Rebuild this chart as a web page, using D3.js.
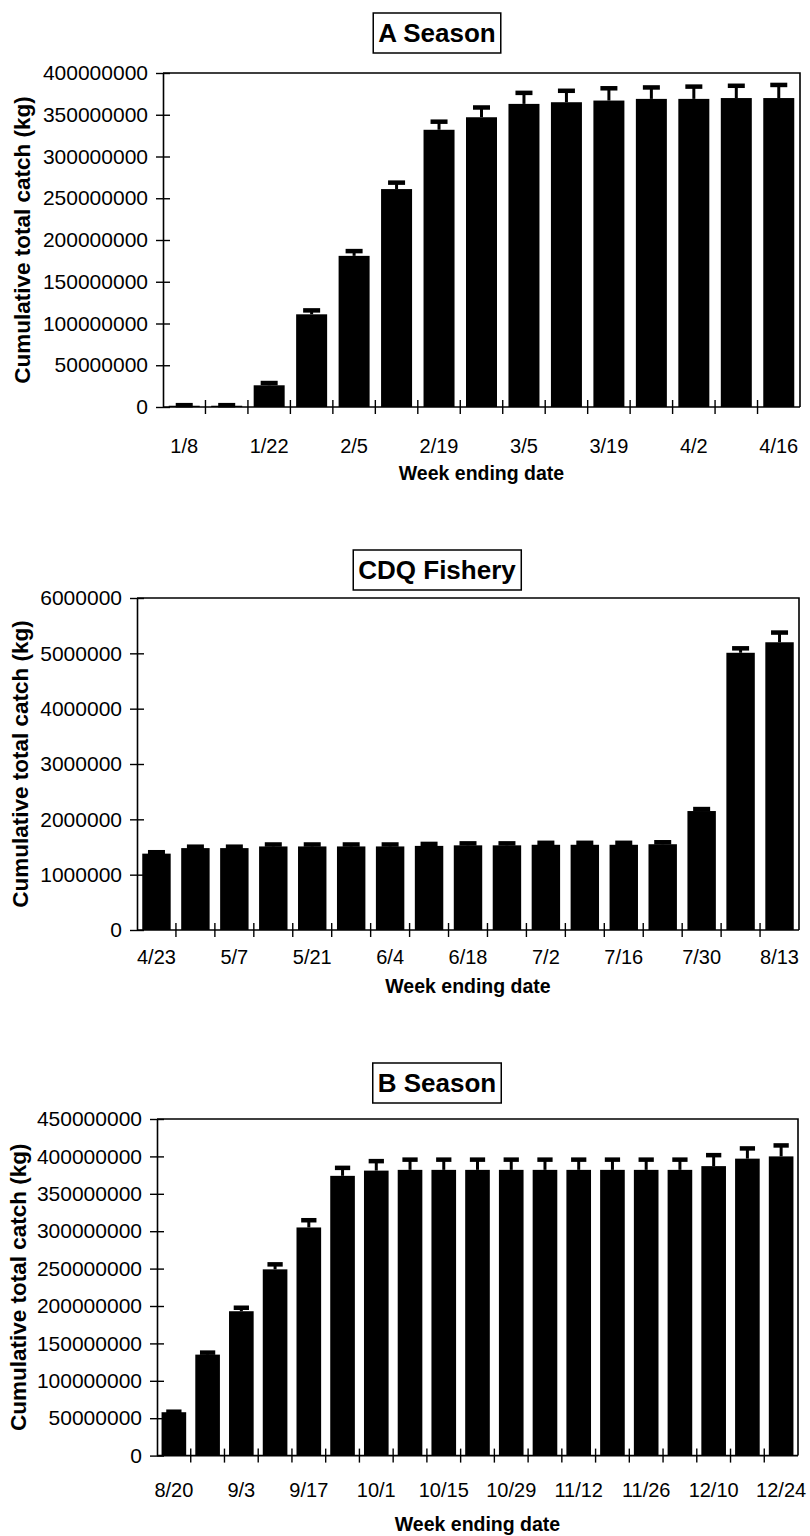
<!DOCTYPE html>
<html>
<head>
<meta charset="utf-8">
<script src="https://cdn.jsdelivr.net/npm/d3@7"></script>
<style>
  html, body { margin: 0; padding: 0; background: #fff; }
  svg { display: block; font-family: "Liberation Sans", Arial, sans-serif; }
</style>
</head>
<body>
<svg id="chart" width="810" height="1536"></svg>
<script>
// ---- A season (pollock, Jan-Apr) ----
const aWeeks = ["1/8","1/15","1/22","1/29","2/5","2/12","2/19","2/26","3/5","3/12","3/19","3/26","4/2","4/9","4/16"];
const aCatch = [1.5e6,1.5e6,26e6,111e6,181e6,261e6,332e6,347e6,363e6,365e6,367e6,369e6,369e6,370e6,370e6];
const aError = [1e6,1e6,3e6,5e6,6e6,8e6,10e6,12e6,13.5e6,14e6,15e6,14e6,15e6,15e6,16e6];
const aTicks = [0,50e6,100e6,150e6,200e6,250e6,300e6,350e6,400e6];

// ---- CDQ fishery (Apr-Aug) ----
const cWeeks = ["4/23","4/30","5/7","5/14","5/21","5/28","6/4","6/11","6/18","6/25","7/2","7/9","7/16","7/23","7/30","8/6","8/13"];
const cCatch = [1.38e6,1.48e6,1.48e6,1.51e6,1.51e6,1.51e6,1.51e6,1.52e6,1.53e6,1.53e6,1.54e6,1.54e6,1.54e6,1.55e6,2.15e6,5.01e6,5.20e6];
const cError = [0.03e6,0.03e6,0.03e6,0.04e6,0.04e6,0.04e6,0.04e6,0.04e6,0.04e6,0.04e6,0.04e6,0.04e6,0.04e6,0.04e6,0.04e6,0.085e6,0.18e6];
const cTicks = [0,1e6,2e6,3e6,4e6,5e6,6e6];

// ---- B season (Aug-Dec) ----
const bWeeks = ["8/20","8/27","9/3","9/10","9/17","9/24","10/1","10/8","10/15","10/22","10/29","11/5","11/12","11/19","11/26","12/3","12/10","12/17","12/24"];
const bCatch = [58e6,135e6,193e6,249e6,305e6,374e6,381e6,382e6,382e6,382e6,382e6,382e6,382e6,382e6,382e6,382e6,387e6,397e6,400e6];
const bError = [1e6,3e6,5e6,7e6,10e6,11e6,13e6,14e6,14e6,14e6,14e6,14e6,14e6,14e6,14e6,14e6,15e6,14e6,15e6];
const bTicks = [0,50e6,100e6,150e6,200e6,250e6,300e6,350e6,400e6,450e6];

const panelTitles = ["A Season", "CDQ Fishery", "B Season"];
const yTitle = "Cumulative total catch (kg)";
const xTitle = "Week ending date";

const svg = d3.select("#chart");

const panels = [
  { title: panelTitles[0], weeks: aWeeks, catch: aCatch, error: aError, ticks: aTicks,
    left: 163, right: 800, top: 73, bottom: 407, titleY: 33, yTitleX: 22, xLabY: 453, xTitleY: 480 },
  { title: panelTitles[1], weeks: cWeeks, catch: cCatch, error: cError, ticks: cTicks,
    left: 137, right: 799, top: 598, bottom: 930, titleY: 570, yTitleX: 20, xLabY: 964, xTitleY: 993 },
  { title: panelTitles[2], weeks: bWeeks, catch: bCatch, error: bError, ticks: bTicks,
    left: 157, right: 798, top: 1119, bottom: 1455.6, titleY: 1083, yTitleX: 18, xLabY: 1497, xTitleY: 1531 }
];

panels.forEach(p => {
  const g = svg.append("g");
  const x = d3.scaleBand().domain(p.weeks).range([p.left, p.right]).paddingInner(0.27).paddingOuter(0.135);
  const xb = d3.scaleBand().domain(p.weeks).range([p.left, p.right]).padding(0);
  const y = d3.scaleLinear().domain([0, p.ticks[p.ticks.length - 1]]).range([p.bottom, p.top]);

  // plot frame (top and right edges)
  g.append("path")
    .attr("d", `M${p.left},${p.top}H${p.right}V${p.bottom}`)
    .attr("fill", "none").attr("stroke", "#000").attr("stroke-width", 1.6);

  // bars
  g.selectAll("rect.bar").data(p.weeks).join("rect")
    .attr("class", "bar")
    .attr("x", d => x(d))
    .attr("width", x.bandwidth())
    .attr("y", (d, i) => y(p.catch[i]))
    .attr("height", (d, i) => y(0) - y(p.catch[i]))
    .attr("fill", "#000");

  // error bars: stem + thick cap
  const capW = Math.min(17, x.bandwidth() * 0.62);
  g.selectAll("line.stem").data(p.weeks).join("line")
    .attr("class", "stem")
    .attr("x1", d => x(d) + x.bandwidth() / 2)
    .attr("x2", d => x(d) + x.bandwidth() / 2)
    .attr("y1", (d, i) => y(p.catch[i]))
    .attr("y2", (d, i) => y(p.catch[i] + p.error[i]))
    .attr("stroke", "#000").attr("stroke-width", 3);
  g.selectAll("rect.cap").data(p.weeks).join("rect")
    .attr("class", "cap")
    .attr("x", d => x(d) + x.bandwidth() / 2 - capW / 2)
    .attr("width", capW)
    .attr("y", (d, i) => y(p.catch[i] + p.error[i]) - 2)
    .attr("height", 4.5)
    .attr("fill", "#000");

  // y axis with crossing ticks
  const yAxis = d3.axisLeft(y).tickValues(p.ticks).tickFormat(d3.format("d")).tickSize(7).tickSizeOuter(0).tickPadding(8);
  const ya = g.append("g").attr("transform", `translate(${p.left},0)`).call(yAxis);
  ya.select(".domain").attr("stroke-width", 1.6);
  ya.selectAll(".tick line").clone().attr("x2", 7);
  ya.selectAll(".tick line").attr("stroke-width", 1.4);
  ya.selectAll("text").attr("font-size", 21).attr("fill", "#000")
    .attr("font-family", "'Liberation Sans', Arial, sans-serif");

  // x axis: ticks at category boundaries crossing the baseline
  g.append("line").attr("x1", p.left).attr("x2", p.right)
    .attr("y1", p.bottom).attr("y2", p.bottom)
    .attr("stroke", "#000").attr("stroke-width", 1.6);
  const bounds = p.weeks.slice(1).map(d => xb(d));
  g.selectAll("line.xt").data(bounds).join("line")
    .attr("class", "xt")
    .attr("x1", d => d).attr("x2", d => d)
    .attr("y1", p.bottom - 7).attr("y2", p.bottom + 7)
    .attr("stroke", "#000").attr("stroke-width", 1.4);

  // category labels, every second week
  g.selectAll("text.xl").data(p.weeks.filter((d, i) => i % 2 === 0)).join("text")
    .attr("class", "xl")
    .attr("x", d => xb(d) + xb.bandwidth() / 2)
    .attr("y", p.xLabY)
    .attr("text-anchor", "middle")
    .attr("font-size", 20)
    .text(d => d);

  // axis titles
  g.append("text")
    .attr("x", (p.left + p.right) / 2)
    .attr("y", p.xTitleY)
    .attr("text-anchor", "middle")
    .attr("font-size", 19.5).attr("font-weight", "bold")
    .text(xTitle);
  g.append("text")
    .attr("transform", `translate(${p.yTitleX},${(p.top + p.bottom) / 2}) rotate(-90)`)
    .attr("text-anchor", "middle")
    .attr("dominant-baseline", "central")
    .attr("font-size", 22.5).attr("font-weight", "bold")
    .text(yTitle);

  // boxed panel title
  const box = g.append("rect")
    .attr("fill", "#fff").attr("stroke", "#000").attr("stroke-width", 1.5);
  const t = g.append("text")
    .attr("x", 437).attr("y", p.titleY)
    .attr("text-anchor", "middle")
    .attr("dominant-baseline", "central")
    .attr("font-size", 26).attr("font-weight", "bold")
    .text(p.title);
  const bb = t.node().getBBox();
  box.attr("x", bb.x - 5).attr("y", bb.y - 5)
    .attr("width", bb.width + 10).attr("height", bb.height + 10);
});
</script>
</body>
</html>
